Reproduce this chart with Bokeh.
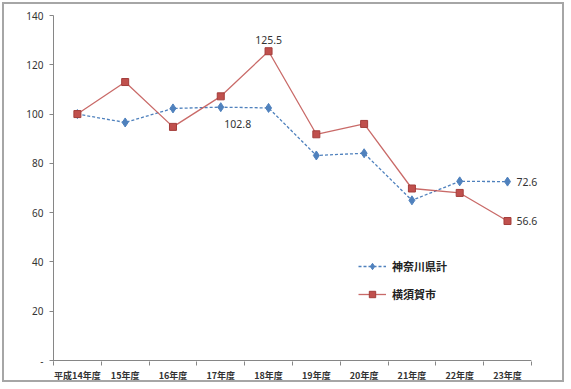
from bokeh.plotting import figure
from bokeh.models import FixedTicker, Legend, LegendItem, Range1d, ColumnDataSource, Label
from bokeh.core.properties import value
from bokeh.embed import file_html
from bokeh.resources import INLINE

categories = ["平成14年度", "15年度", "16年度", "17年度", "18年度",
              "19年度", "20年度", "21年度", "22年度", "23年度"]
kanagawa = [100.0, 96.6, 102.3, 102.8, 102.5, 83.2, 84.1, 65.0, 72.7, 72.6]
yokosuka = [100.0, 113.0, 94.8, 107.2, 125.5, 91.8, 96.0, 69.8, 68.0, 56.6]
y_ticks = [0, 20, 40, 60, 80, 100, 120, 140]
y_tick_labels = ["-", "20", "40", "60", "80", "100", "120", "140"]
series_names = ["神奈川県計", "横須賀市"]

xs = list(range(1, len(categories) + 1))
boundaries = [i + 0.5 for i in range(0, len(categories) + 1)]

src = ColumnDataSource(dict(x=xs, kan=kanagawa, yok=yokosuka))

p = figure(width=562, height=380, output_backend="svg", toolbar_location=None,
           x_range=Range1d(boundaries[0], boundaries[-1] + 0.4),
           y_range=Range1d(-0.4, 140),
           min_border_left=49, min_border_right=16, min_border_top=11, min_border_bottom=22)
p.styles = {"margin-left": "2px", "margin-top": "2px",
            "border": "2px solid #a6a6a6"}
p.outline_line_color = None
p.xgrid.grid_line_color = None
p.ygrid.grid_line_color = None
p.background_fill_color = "white"
p.border_fill_color = "white"

num_font = "Noto Sans"
cjk_font = "Noto Sans CJK JP"
axis_color = "#868686"

# y axis
p.yaxis.ticker = FixedTicker(ticks=y_ticks, minor_ticks=[])
p.yaxis.major_label_overrides = {t: l for t, l in zip(y_ticks, y_tick_labels)}
p.yaxis.axis_line_color = axis_color
p.yaxis.major_tick_line_color = axis_color
p.yaxis.major_tick_out = 4
p.yaxis.major_tick_in = 0
p.yaxis.minor_tick_line_color = None
p.yaxis.major_label_standoff = 6
p.yaxis.major_label_text_font = num_font
p.yaxis.major_label_text_font_size = "10px"
p.yaxis.major_label_text_color = "#333333"

# x axis (line drawn only across the category span)
p.xaxis.ticker = FixedTicker(ticks=xs, minor_ticks=boundaries)
p.xaxis.major_label_overrides = {x: c for x, c in zip(xs, categories)}
p.xaxis.axis_line_color = None
p.xaxis.major_tick_line_color = None
p.xaxis.major_tick_out = 0
p.xaxis.major_tick_in = 0
p.xaxis.minor_tick_line_color = axis_color
p.xaxis.minor_tick_out = 4
p.xaxis.minor_tick_in = 0
p.xaxis.major_label_standoff = 3
p.xaxis.major_label_text_font = cjk_font
p.xaxis.major_label_text_font_size = "9px"
p.xaxis.major_label_text_font_style = "bold"
p.xaxis.major_label_text_color = "#333333"
p.segment(x0=[boundaries[0]], y0=[0], x1=[boundaries[-1]], y1=[0],
          line_color=axis_color, line_width=1)

blue = "#4F81BD"
red = "#C0504D"

kl = p.line("x", "kan", source=src, line_color=blue, line_width=1.3, line_dash="3 2")
km = p.scatter("x", "kan", source=src, marker="diamond", size=9,
               fill_color=blue, line_color=blue)
yl = p.line("x", "yok", source=src, line_color=red, line_width=1.3, line_alpha=0.85)
ym = p.scatter("x", "yok", source=src, marker="square", size=7,
               fill_color=red, line_color="#a33d3a")

legend = Legend(items=[LegendItem(label=series_names[0], renderers=[kl, km]),
                       LegendItem(label=series_names[1], renderers=[yl, ym])],
                location=(305, 59), glyph_width=28, glyph_height=16,
                label_standoff=6, spacing=12, padding=0, margin=0,
                border_line_alpha=0, background_fill_alpha=0,
                label_text_font=cjk_font, label_text_font_size="11px",
                label_text_font_style="bold", label_text_color="#222222")
p.add_layout(legend)

def add_label(i, series, dx, dy, align):
    p.add_layout(Label(x=xs[i], y=series[i], text=f"{series[i]:.1f}",
                       x_offset=dx, y_offset=dy, text_align=align,
                       text_baseline="middle", text_font=num_font,
                       text_font_size="10.5px", text_color="#333333"))

add_label(4, yokosuka, 0, 11, "center")
add_label(3, kanagawa, 17, -17, "center")
add_label(9, kanagawa, 9, 0, "left")
add_label(9, yokosuka, 9, 0, "left")

open("out.html", "w").write(file_html(p, INLINE))
